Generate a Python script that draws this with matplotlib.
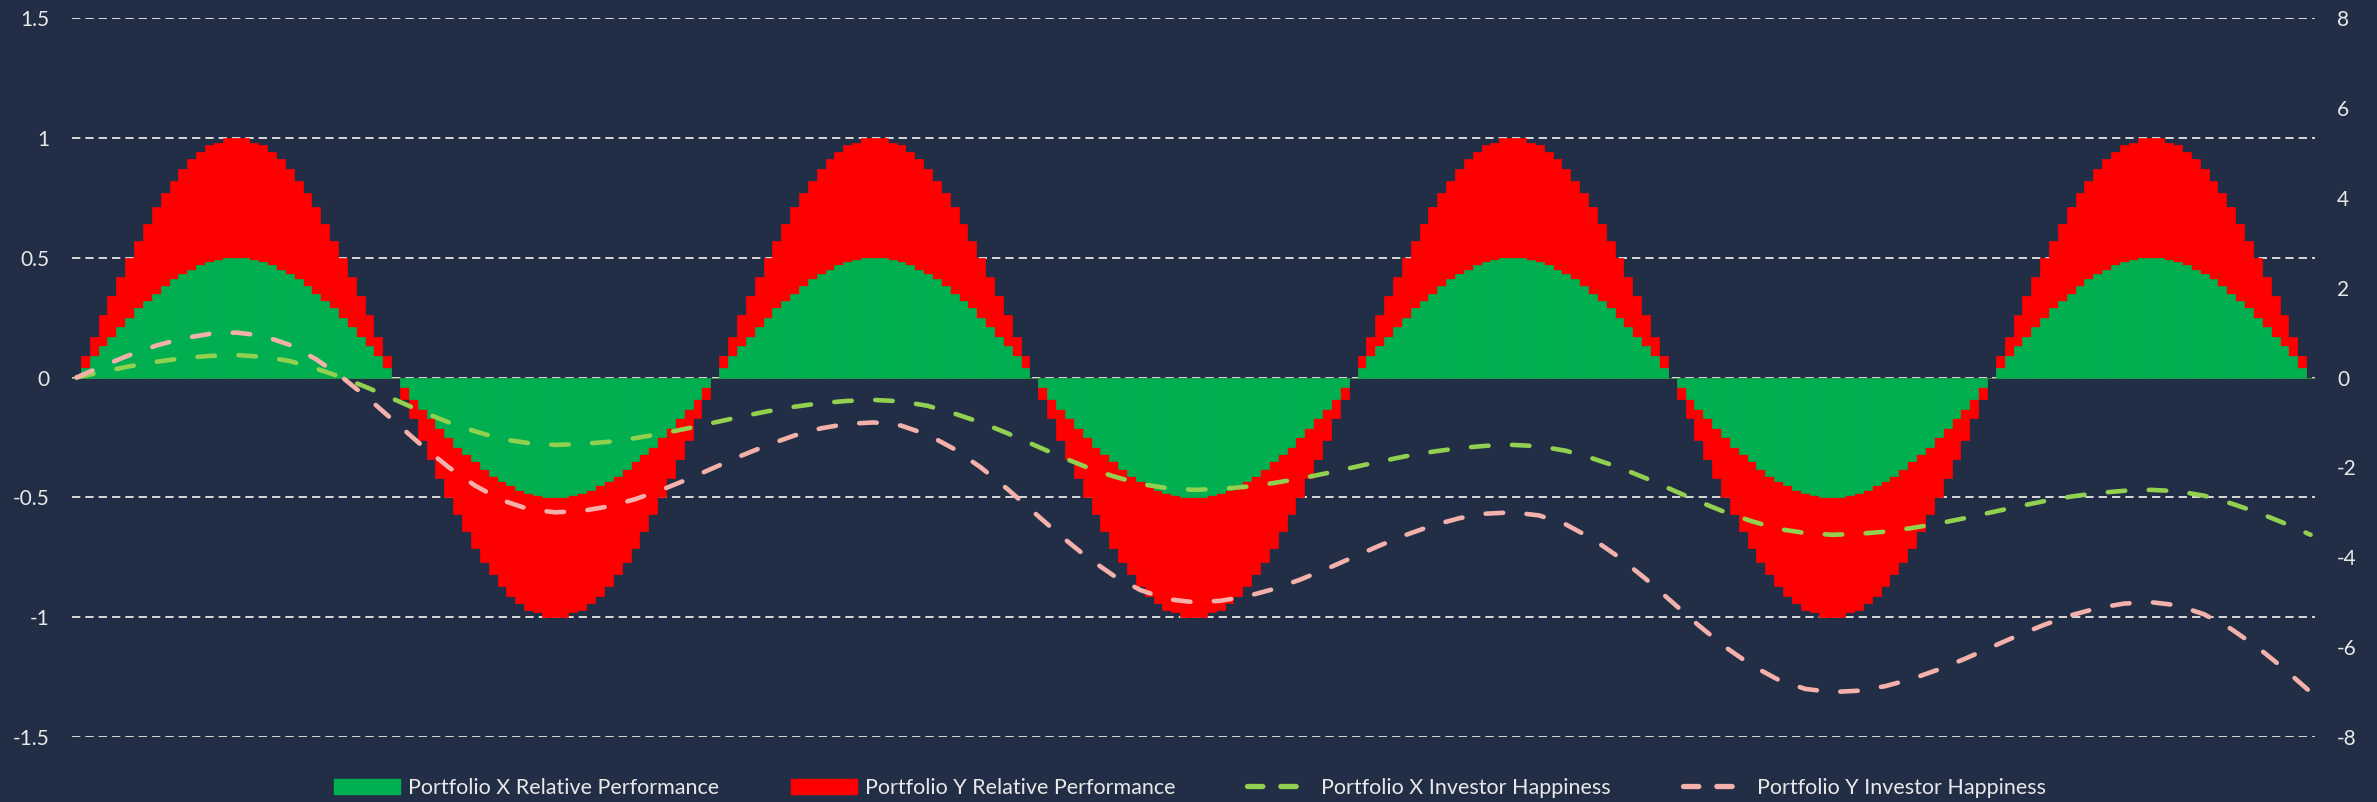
"""
Relative performance vs investor happiness chart.

Two portfolios swing around zero; happiness is drawn on a second axis.
"""

import matplotlib
matplotlib.use('Agg')
import matplotlib.pyplot as plt
from matplotlib.patches import Patch
from matplotlib.lines import Line2D

plt.rcParams['font.family'] = ['Lato', 'DejaVu Sans']
plt.rcParams['axes.unicode_minus'] = False
plt.rcParams['lines.scale_dashes'] = False

# ---- data ----
# x axis: one bar every 5 degrees of the cycle, 0..1260
bar_degrees = list(range(0, 1261, 5))

portfolio_y_perf = [
    0, .09, .17, .26, .34, .42, .50, .57, .64, .71, .77, .82, .87, .91, .94, .97, .98, 1.0, 1.0, 1.0, .98, .97, .94, .91, .87, .82, .77, .71, .64, .57, .50, .42, .34, .26, .17, .09, 0,
    -.09, -.17, -.26, -.34, -.42, -.50, -.57, -.64, -.71, -.77, -.82, -.87, -.91, -.94, -.97, -.98, -1.0, -1.0, -1.0, -.98, -.97, -.94, -.91, -.87, -.82, -.77, -.71, -.64, -.57, -.50, -.42, -.34, -.26, -.17, -.09, 0,
    .09, .17, .26, .34, .42, .50, .57, .64, .71, .77, .82, .87, .91, .94, .97, .98, 1.0, 1.0, 1.0, .98, .97, .94, .91, .87, .82, .77, .71, .64, .57, .50, .42, .34, .26, .17, .09, 0,
    -.09, -.17, -.26, -.34, -.42, -.50, -.57, -.64, -.71, -.77, -.82, -.87, -.91, -.94, -.97, -.98, -1.0, -1.0, -1.0, -.98, -.97, -.94, -.91, -.87, -.82, -.77, -.71, -.64, -.57, -.50, -.42, -.34, -.26, -.17, -.09, 0,
    .09, .17, .26, .34, .42, .50, .57, .64, .71, .77, .82, .87, .91, .94, .97, .98, 1.0, 1.0, 1.0, .98, .97, .94, .91, .87, .82, .77, .71, .64, .57, .50, .42, .34, .26, .17, .09, 0,
    -.09, -.17, -.26, -.34, -.42, -.50, -.57, -.64, -.71, -.77, -.82, -.87, -.91, -.94, -.97, -.98, -1.0, -1.0, -1.0, -.98, -.97, -.94, -.91, -.87, -.82, -.77, -.71, -.64, -.57, -.50, -.42, -.34, -.26, -.17, -.09, 0,
    .09, .17, .26, .34, .42, .50, .57, .64, .71, .77, .82, .87, .91, .94, .97, .98, 1.0, 1.0, 1.0, .98, .97, .94, .91, .87, .82, .77, .71, .64, .57, .50, .42, .34, .26, .17, .09, 0,
]

portfolio_x_perf = [
    0, .04, .09, .13, .17, .21, .25, .29, .32, .35, .38, .41, .43, .45, .47, .48, .49, .50, .50, .50, .49, .48, .47, .45, .43, .41, .38, .35, .32, .29, .25, .21, .17, .13, .09, .04, 0,
    -.04, -.09, -.13, -.17, -.21, -.25, -.29, -.32, -.35, -.38, -.41, -.43, -.45, -.47, -.48, -.49, -.50, -.50, -.50, -.49, -.48, -.47, -.45, -.43, -.41, -.38, -.35, -.32, -.29, -.25, -.21, -.17, -.13, -.09, -.04, 0,
    .04, .09, .13, .17, .21, .25, .29, .32, .35, .38, .41, .43, .45, .47, .48, .49, .50, .50, .50, .49, .48, .47, .45, .43, .41, .38, .35, .32, .29, .25, .21, .17, .13, .09, .04, 0,
    -.04, -.09, -.13, -.17, -.21, -.25, -.29, -.32, -.35, -.38, -.41, -.43, -.45, -.47, -.48, -.49, -.50, -.50, -.50, -.49, -.48, -.47, -.45, -.43, -.41, -.38, -.35, -.32, -.29, -.25, -.21, -.17, -.13, -.09, -.04, 0,
    .04, .09, .13, .17, .21, .25, .29, .32, .35, .38, .41, .43, .45, .47, .48, .49, .50, .50, .50, .49, .48, .47, .45, .43, .41, .38, .35, .32, .29, .25, .21, .17, .13, .09, .04, 0,
    -.04, -.09, -.13, -.17, -.21, -.25, -.29, -.32, -.35, -.38, -.41, -.43, -.45, -.47, -.48, -.49, -.50, -.50, -.50, -.49, -.48, -.47, -.45, -.43, -.41, -.38, -.35, -.32, -.29, -.25, -.21, -.17, -.13, -.09, -.04, 0,
    .04, .09, .13, .17, .21, .25, .29, .32, .35, .38, .41, .43, .45, .47, .48, .49, .50, .50, .50, .49, .48, .47, .45, .43, .41, .38, .35, .32, .29, .25, .21, .17, .13, .09, .04, 0,
]

# happiness lines, sampled every 15 degrees (secondary axis)
line_degrees = list(range(0, 1261, 15))

portfolio_x_happy = [
    0, .13, .25, .35, .43, .48, .50,
    .46, .37, .20, 0, -.24, -.50, -.76, -1.0, -1.2, -1.37, -1.46, -1.5,
    -1.48, -1.43, -1.35, -1.25, -1.13, -1.0, -.87, -.75, -.65, -.57, -.52, -.50,
    -.53, -.63, -.80, -1.0, -1.24, -1.5, -1.76, -2.0, -2.2, -2.37, -2.46, -2.5,
    -2.48, -2.43, -2.35, -2.25, -2.13, -2.0, -1.87, -1.75, -1.65, -1.57, -1.52, -1.5,
    -1.53, -1.63, -1.8, -2.0, -2.24, -2.5, -2.76, -3.0, -3.2, -3.37, -3.46, -3.5,
    -3.48, -3.43, -3.35, -3.25, -3.13, -3.0, -2.87, -2.75, -2.65, -2.57, -2.52, -2.5,
    -2.53, -2.63, -2.8, -3.0, -3.24, -3.5,
]

portfolio_y_happy = [
    0, .26, .50, .71, .87, .97, 1.0,
    .93, .73, .41, 0, -.48, -1.0, -1.52, -2.0, -2.41, -2.73, -2.93, -3.0,
    -2.97, -2.87, -2.71, -2.5, -2.26, -2.0, -1.74, -1.5, -1.29, -1.13, -1.03, -1.0,
    -1.07, -1.27, -1.59, -2.0, -2.48, -3.0, -3.52, -4.0, -4.41, -4.73, -4.93, -5.0,
    -4.97, -4.87, -4.71, -4.5, -4.26, -4.0, -3.74, -3.5, -3.29, -3.13, -3.03, -3.0,
    -3.07, -3.27, -3.59, -4.0, -4.48, -5.0, -5.52, -6.0, -6.41, -6.73, -6.93, -7.0,
    -6.97, -6.87, -6.71, -6.5, -6.26, -6.0, -5.74, -5.5, -5.29, -5.13, -5.03, -5.0,
    -5.07, -5.27, -5.59, -6.0, -6.48, -7.0,
]

left_ticks = [-1.5, -1, -0.5, 0, 0.5, 1, 1.5]
right_ticks = [-8, -6, -4, -2, 0, 2, 4, 6, 8]

labels = [
    'Portfolio X Relative Performance',
    'Portfolio Y Relative Performance',
    'Portfolio X Investor Happiness',
    'Portfolio Y Investor Happiness',
]

# ---- style ----
BG = '#222E45'
TEXT = '#E8E8E8'
GRID = '#D9D9D9'
GREEN_BAR = '#00B050'
RED_BAR = '#FF0000'
GREEN_LINE = '#92D050'
PINK_LINE = '#F4B1AB'
LINE_DASH = (12.6, 16.9)


def style_axis(axis):
    for spine in axis.spines.values():
        spine.set_visible(False)
    axis.tick_params(axis='both', length=0, colors=TEXT, labelsize=15, pad=16)


W, H = 2377, 802
fig = plt.figure(figsize=(W / 100, H / 100), dpi=100, facecolor=BG)
ax = fig.add_axes([72 / W, 65 / H, (2315 - 72) / W, (784 - 65) / H])
ax.set_facecolor(BG)

ax.bar(bar_degrees, portfolio_y_perf, width=5, color=RED_BAR,
       edgecolor=RED_BAR, linewidth=0.5, zorder=2)
ax.bar(bar_degrees, portfolio_x_perf, width=5, color=GREEN_BAR,
       edgecolor=GREEN_BAR, linewidth=0.5, zorder=3)

ax.set_xlim(-2.5, 1262.5)
ax.set_ylim(-1.5, 1.5)
ax.set_xticks([])
ax.set_yticks(left_ticks)
ax.set_yticklabels(['%g' % t for t in left_ticks])
ax.yaxis.grid(True, color=GRID, linestyle=(0, (6, 3.6)), linewidth=1.4)
ax.set_axisbelow(True)
style_axis(ax)

# secondary axis for the happiness lines
ax2 = ax.twinx()
ax2.plot(line_degrees, portfolio_x_happy, color=GREEN_LINE, linewidth=3.3,
         dashes=LINE_DASH, dash_capstyle='round', solid_capstyle='round')
ax2.plot(line_degrees, portfolio_y_happy, color=PINK_LINE, linewidth=3.3,
         dashes=LINE_DASH, dash_capstyle='round', solid_capstyle='round')
ax2.set_ylim(-8, 8)
ax2.set_yticks(right_ticks)
ax2.set_yticklabels([str(t) for t in right_ticks])
style_axis(ax2)

handles = [
    Patch(facecolor=GREEN_BAR, edgecolor=GREEN_BAR),
    Patch(facecolor=RED_BAR, edgecolor=RED_BAR),
    Line2D([0], [0], color=GREEN_LINE, linewidth=3.8, dashes=(11, 13),
           dash_capstyle='round'),
    Line2D([0], [0], color=PINK_LINE, linewidth=3.8, dashes=(11, 13),
           dash_capstyle='round'),
]
fig.legend(handles, labels, loc='center', bbox_to_anchor=(0.5006, 14 / H),
           ncol=4, frameon=False, fontsize=15.5, labelcolor=TEXT,
           handlelength=3.07, handleheight=0.75, handletextpad=0.36,
           columnspacing=3.34)

fig.savefig('out.png', dpi=100, facecolor=BG)
